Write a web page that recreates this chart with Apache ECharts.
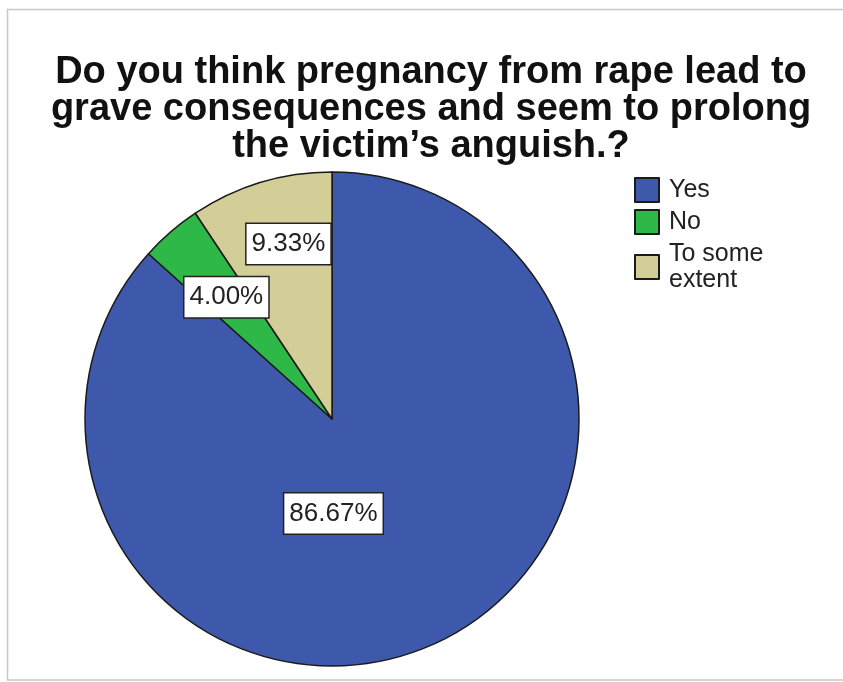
<!DOCTYPE html>
<html>
<head>
<meta charset="utf-8">
<script src="https://cdn.jsdelivr.net/npm/echarts@6/dist/echarts.min.js"></script>
<style>html,body{margin:0;padding:0;background:#fff;}#chart{width:843px;height:682px;}</style>
</head>
<body>
<div id="chart"></div>
<script>
const titleText = "Do you think pregnancy from rape lead to\ngrave consequences and seem to prolong\nthe victim\u2019s anguish.?";
const categories = ["Yes", "No", "To some\nextent"];
const percents = [86.67, 4.00, 9.33];
const colors = ["#3E58AC", "#2EB848", "#D3CE97"];
const labelOffsets = [[-50, -21], [-23, -26], [-7, -54]];

const chart = echarts.init(document.getElementById('chart'));
chart.setOption({
  animation: false,
  backgroundColor: '#fff',
  graphic: [{
    type: 'rect',
    shape: { x: 7.5, y: 9.5, width: 850, height: 670.5 },
    style: { fill: 'none', stroke: '#c8c8c8', lineWidth: 1.5 },
    silent: true
  }],
  title: {
    text: titleText,
    left: 426,
    top: 49,
    textAlign: 'center',
    textStyle: {
      fontFamily: 'Liberation Sans',
      fontWeight: 'bold',
      fontSize: 38,
      lineHeight: 37,
      color: '#111'
    }
  },
  legend: {
    orient: 'vertical',
    left: 634,
    top: 174.5,
    padding: 0,
    itemGap: 1,
    itemWidth: 24,
    itemHeight: 24,
    icon: 'rect',
    selectedMode: false,
    textStyle: {
      fontFamily: 'Liberation Sans',
      fontSize: 25,
      lineHeight: 26,
      color: '#222',
      padding: [5, 0, 0, 5]
    },
    data: categories
  },
  series: [{
    type: 'pie',
    center: [332, 419],
    radius: [0, 247],
    startAngle: 90,
    clockwise: true,
    color: colors,
    itemStyle: { borderColor: '#1a1a1a', borderWidth: 1.5 },
    emphasis: { disabled: true },
    label: {
      show: true,
      position: 'inside',
      formatter: p => p.value.toFixed(2) + '%',
      fontFamily: 'Liberation Sans',
      fontSize: 26,
      lineHeight: 26,
      color: '#222',
      backgroundColor: '#fff',
      borderColor: '#222',
      borderWidth: 1.5,
      padding: [7, 5, 7, 5]
    },
    labelLayout: p => ({ dx: labelOffsets[p.dataIndex][0], dy: labelOffsets[p.dataIndex][1] }),
    data: categories.map((c, i) => ({ name: c, value: percents[i] }))
  }]
});
</script>
</body>
</html>
